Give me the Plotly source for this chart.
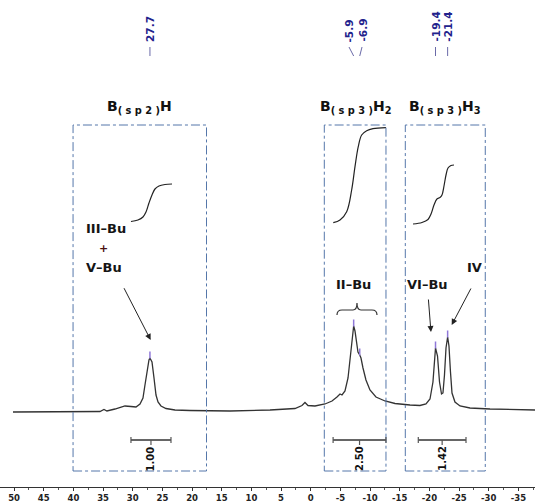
import plotly.graph_objects as go

# ---------------- data ----------------
# 11B NMR spectrum (chemical shift in ppm, intensity in arbitrary units)
shift_ppm = [50.29, 42.54, 35.94, 35.28, 34.79, 33.47, 31.82, 30.83, 30.00, 29.34,
             28.85, 28.52, 28.19, 27.86, 27.70, 27.36, 27.03, 26.70, 26.37, 25.88,
             25.05, 23.57, 21.10, 14.50, 7.90, 3.78, 2.62, 2.13, 1.63, 0.48,
             -1.17, -2.33, -3.15, -3.65, -3.98, -4.47, -4.97, -5.30, -5.63, -5.90,
             -6.12, -6.37, -6.61, -6.90, -7.11, -7.44, -7.93, -8.59, -9.58, -11.07,
             -12.72, -15.19, -16.84, -17.83, -18.49, -18.98, -19.31, -19.40, -19.73, -20.06,
             -20.39, -20.63, -20.88, -21.13, -21.40, -21.62, -21.87, -22.12, -22.61, -23.44,
             -25.09, -28.39, -35.81]
intensity = [0, 0, 0.5, 2.5, 1, 3, 6, 5.5, 5, 8,
             14, 27, 42, 52, 54, 50, 34, 17, 10, 6,
             3.5, 2, 1.5, 1, 2, 3.5, 6.5, 9.5, 6.5, 6,
             8, 11, 15, 18, 17, 21, 34, 54, 76, 86,
             81, 70, 60, 57, 54, 44, 32, 22, 15, 11,
             8.5, 7, 6.5, 8, 13, 30, 56, 64, 56, 30,
             18, 19, 37, 64, 75, 66, 40, 19, 10, 6,
             4, 3, 2]

# picked peaks
peak_ppm = [27.7, -5.9, -6.9, -19.4, -21.4]
peak_height = [54, 86, 57, 64, 75]
peak_text = ["27.7", "-5.9", "-6.9", "-19.4", "-21.4"]

# integral curves (ppm, integral trace height)
int1_ppm = [30.83, 29.68, 28.85, 28.35, 27.86, 27.36, 26.87, 26.21, 25.22, 24.06]
int1_val = [190.5, 192, 195, 200, 209, 217, 223, 226, 227.5, 228]
int2_ppm = [-2.54, -3.65, -4.75, -5.57, -6.12, -6.66, -7.22, -8.05, -9.09, -11.23]
int2_val = [189.3, 192, 200.3, 222, 245.3, 265.3, 277, 281.3, 283.3, 284.3]
int3_ppm = [-15.69, -17.17, -18.16, -18.66, -19.15, -19.64, -20.14, -20.47, -20.80,
            -21.13, -21.46, -21.95, -22.45]
int3_val = [188, 189.5, 192.5, 198, 207, 213, 214.5, 217, 226, 237, 244, 246.5, 247]

# integration ranges and values
int_from = [30.83, -2.51, -16.56]
int_to = [24.23, -11.23, -24.43]
int_value = ["1.00", "2.50", "1.42"]

# region boxes (ppm)
region_left = [40.38, -1.06, -14.42]
region_right = [18.37, -11.23, -27.61]
region_title = ["<b>B<sub>( s p 2 )</sub>H</b>",
                "<b>B<sub>( s p 3 )</sub>H<sub>2</sub></b>",
                "<b>B<sub>( s p 3 )</sub>H<sub>3</sub></b>"]

axis_ticks = list(range(50, -40, -5))

# ---------------- figure ----------------
fig = go.Figure()

# dummy trace so the visible x axis subplot exists
fig.add_trace(go.Scatter(x=[None], y=[None], xaxis="x", yaxis="y",
                         showlegend=False, hoverinfo="skip"))

fig.add_trace(go.Scatter(x=shift_ppm, y=intensity, xaxis="x2", yaxis="y",
                         mode="lines", line=dict(color="#333333", width=1.3),
                         showlegend=False, hoverinfo="skip"))

for xs, ys in [(int1_ppm, int1_val), (int2_ppm, int2_val), (int3_ppm, int3_val)]:
    fig.add_trace(go.Scatter(x=xs, y=ys, xaxis="x2", yaxis="y", mode="lines",
                             line=dict(color="#222222", width=1.2, shape="spline"),
                             showlegend=False, hoverinfo="skip"))

# peak pick markers
fig.add_trace(go.Scatter(x=peak_ppm, y=[h + 3 for h in peak_height], xaxis="x2", yaxis="y",
                         mode="markers",
                         marker=dict(symbol="line-ns-open", size=5, color="#8f78d8",
                                     line=dict(color="#8f78d8", width=1.5)),
                         showlegend=False, hoverinfo="skip"))

shapes = []
annotations = []
box_color = "#5577aa"

# region boxes + titles
box_top, box_bottom = 287, -59
for l, r, t in zip(region_left, region_right, region_title):
    shapes.append(dict(type="rect", xref="x2", yref="y", x0=l, x1=r, y0=box_bottom, y1=box_top,
                       line=dict(color=box_color, width=1, dash="dashdot")))
    annotations.append(dict(x=(l + r) / 2, y=305, xref="x2", yref="y", text=t,
                            showarrow=False, font=dict(size=14, color="#111111",
                                                       family="DejaVu Sans")))

# integration bars
bar_y = -28
for a, b, v in zip(int_from, int_to, int_value):
    c = (a + b) / 2
    shapes.append(dict(type="line", xref="x2", yref="y", x0=a, x1=b, y0=bar_y, y1=bar_y,
                       line=dict(color="#666666", width=2)))
    for e in (a, b):
        shapes.append(dict(type="line", xref="x2", yref="y", x0=e, x1=e, y0=bar_y - 3,
                           y1=bar_y + 3, line=dict(color="#555555", width=1.2)))
    shapes.append(dict(type="line", xref="x2", yref="y", x0=c, x1=c, y0=bar_y, y1=bar_y - 5,
                       line=dict(color="#555555", width=1.2)))
    annotations.append(dict(x=c, y=-32, xref="x2", yref="y", text="<b>" + v + "</b>",
                            textangle=-90, showarrow=False, yanchor="top",
                            font=dict(size=10, color="#111111", family="DejaVu Sans")))

# peak labels at top
label_nudge_ppm = [0, 0.77, -0.38, 0, 0]
for p, n, t in zip(peak_ppm, label_nudge_ppm, peak_text):
    lx = p + n
    annotations.append(dict(x=lx, y=368, xref="x2", yref="y", text="<b>" + t + "</b>",
                            textangle=-90, showarrow=False, yanchor="bottom",
                            font=dict(size=10.5, color="#22228c", family="DejaVu Sans")))
    shapes.append(dict(type="line", xref="x2", yref="y", x0=lx, x1=p, y0=365, y1=356,
                       line=dict(color="#6a6aa8", width=1)))

# text labels
lab_font = dict(size=13, color="#151515", family="DejaVu Sans")
for x, y, t in [(35.03, 184, "<b>III\u2013Bu</b>"), (35.20, 145, "<b>V\u2013Bu</b>"),
                (-5.95, 128, "<b>II\u2013Bu</b>"), (-18.16, 128, "<b>VI\u2013Bu</b>"),
                (-25.75, 144.5, "<b>IV</b>")]:
    annotations.append(dict(x=x, y=y, xref="x2", yref="y", text=t, showarrow=False,
                            font=lab_font))
annotations.append(dict(x=35.28, y=164, xref="x2", yref="y", text="<b>+</b>", showarrow=False,
                        font=dict(size=11, color="#4a1010", family="DejaVu Sans")))

# arrows
for (hx, hy, tx, ty) in [(27.58, 72, 32.10, 125.3), (-18.65, 80, -18.21, 114),
                         (-22.07, 87, -25.37, 125)]:
    annotations.append(dict(x=hx, y=hy, ax=tx, ay=ty, xref="x2", yref="y", axref="x2",
                            ayref="y", text="", showarrow=True, arrowhead=2, arrowsize=1.2,
                            arrowwidth=1, arrowcolor="#222222"))

# brace over II-Bu
shapes.append(dict(type="path", xref="x2", yref="y",
                   path="M -3.15,97 Q -3.15,102 -3.98,102 L -5.79,102 Q -6.45,102 -6.45,109 "
                        "Q -6.45,102 -7.11,102 L -8.92,102 Q -9.75,102 -9.75,97",
                   line=dict(color="#333333", width=1.2)))

# axis title (cut at bottom like the reference)
annotations.append(dict(x=0.633, y=0, xref="paper", yref="paper", yshift=-21,
                        text="<b>f1 (ppm)</b>", showarrow=False, yanchor="middle",
                        font=dict(size=8.5, color="#222222", family="DejaVu Sans")))

fig.update_layout(
    width=535, height=504,
    margin=dict(l=0, r=0, t=0, b=17),
    paper_bgcolor="white", plot_bgcolor="white",
    showlegend=False,
    xaxis=dict(range=[52.37, -37.80], tickmode="array", tickvals=axis_ticks,
               ticktext=[str(v) for v in axis_ticks],
               ticks="outside", ticklen=3, tickcolor="#333333", tickwidth=1,
               minor=dict(dtick=2.5, tick0=0, ticks="outside", ticklen=2,
                          tickcolor="#555555"),
               showline=True, linecolor="#333333", linewidth=1,
               showgrid=False, zeroline=False,
               tickfont=dict(size=8.5, color="#222222", family="DejaVu Sans",
                             weight="bold")),
    xaxis2=dict(range=[52.43, -35.81], overlaying="x", visible=False,
                showgrid=False, zeroline=False),
    yaxis=dict(range=[-75, 412], visible=False, showgrid=False, zeroline=False),
    shapes=shapes,
    annotations=annotations,
)

fig.write_html("out.html", config={"displayModeBar": False},
               post_script="document.body.style.margin='0';document.body.style.overflow='hidden';")
